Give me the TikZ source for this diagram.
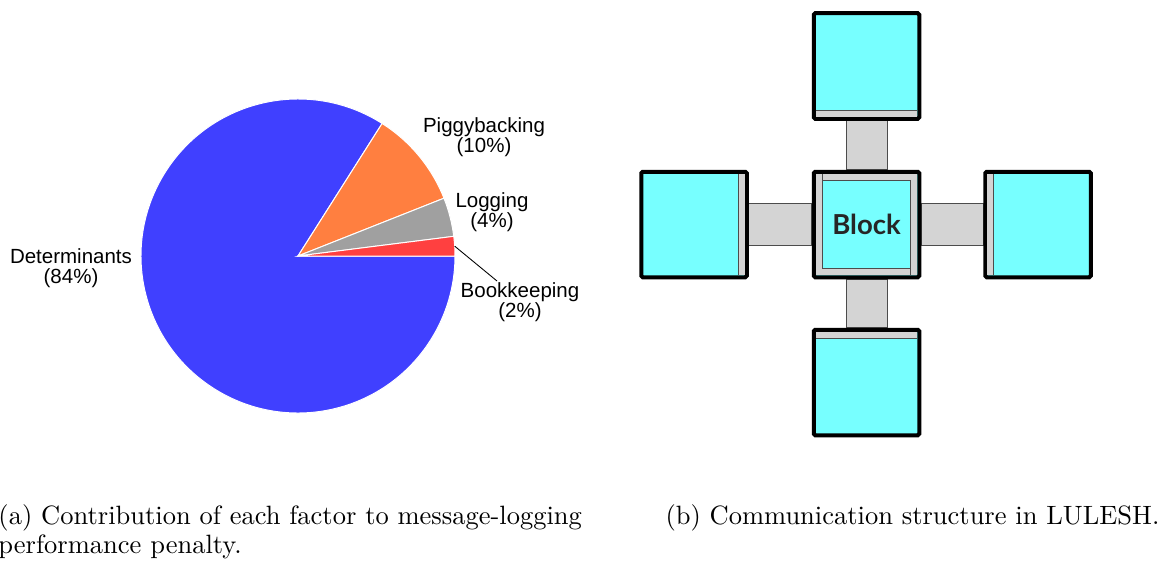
\documentclass[tikz,border=0pt]{standalone}
\usepackage{fontspec}
\newfontfamily\pief{Liberation Sans}
\newfontfamily\blockf{Lato}
\usetikzlibrary{calc,backgrounds}
\definecolor{pieblue}{HTML}{4040FF}
\definecolor{pieorange}{HTML}{FF7F40}
\definecolor{piegray}{HTML}{A0A0A0}
\definecolor{piered}{HTML}{FF4040}
\definecolor{cyanb}{HTML}{77FFFF}
\definecolor{stripg}{HTML}{D4D4D4}
\begin{document}
\begin{tikzpicture}[x=0.4pt,y=-0.4pt,
  slice/.style={draw=white,line width=0.4pt},
  pielabel/.style={font=\pief\fontsize{8.2}{7.8}\selectfont,align=center,inner sep=0pt},
  blockbox/.style={draw=black,fill=cyanb,line width=1.6pt,minimum size=42.2pt,inner sep=0pt,rounded corners=0.6pt},
  strip/.style={fill=stripg},
  innerline/.style={draw=black!70,line width=0.3pt},
  conn/.style={fill=stripg,draw=black!70,line width=0.35pt},
  caption/.style={anchor=base west,inner sep=0pt,font=\fontsize{10.6}{12.7}\selectfont}
]
\useasboundingbox (0,0) rectangle (1159,560);
% ---------- pie ----------
\coordinate (c) at (298,256);
\fill[pieblue,slice] (c) -- ++(-57.6:157) arc[start angle=-57.6,end angle=-360,radius=157] -- cycle;
\fill[pieorange,slice] (c) -- ++(-21.6:157) arc[start angle=-21.6,end angle=-57.6,radius=157] -- cycle;
\fill[piegray,slice] (c) -- ++(-7.2:157) arc[start angle=-7.2,end angle=-21.6,radius=157] -- cycle;
\fill[piered,slice] (c) -- ++(0:157) arc[start angle=0,end angle=-7.2,radius=157] -- cycle;
\node[pielabel] (pig) at (484,137) {Piggybacking\\(10\%)};
\node[pielabel] (log) at (492,212) {Logging\\(4\%)};
\node[pielabel] (bk) at (520,302) {Bookkeeping\\(2\%)};
\node[pielabel] (det) at (71,268) {Determinants\\(84\%)};
\coordinate (bkedge) at ($(c)+(-3.6:157)$);
\coordinate (bkend) at (497,281);
\draw[line width=0.35pt] (bkedge) -- (bkend);
% ---------- blocks ----------
\node[blockbox] (cen) at (866.5,224.5) {};
\node[blockbox] (top) at (866.5,66) {};
\node[blockbox] (bot) at (866.5,382.5) {};
\node[blockbox] (lef) at (694,224.5) {};
\node[blockbox] (rig) at (1038,224.5) {};
% connectors behind
\begin{scope}[on background layer]
\draw[conn] ($(top.south)+(-20.5,0)$) rectangle ($(cen.north)+(20.5,0)$);
\draw[conn] ($(cen.south)+(-20.5,0)$) rectangle ($(bot.north)+(20.5,0)$);
\draw[conn] ($(lef.east)+(0,-21)$) rectangle ($(cen.west)+(0,21)$);
\draw[conn] ($(cen.east)+(0,-21)$) rectangle ($(rig.west)+(0,21)$);
\end{scope}
% inner strips
\fill[strip] ($(top.south west)+(4,-4)$) rectangle ($(top.south east)+(-4,-10.5)$);
\draw[innerline] ($(top.south west)+(4,-10.5)$) -- ($(top.south east)+(-4,-10.5)$);
\fill[strip] ($(bot.north west)+(4,4)$) rectangle ($(bot.north east)+(-4,10.5)$);
\draw[innerline] ($(bot.north west)+(4,10.5)$) -- ($(bot.north east)+(-4,10.5)$);
\fill[strip] ($(lef.north east)+(-4,4)$) rectangle ($(lef.south east)+(-10.5,-4)$);
\draw[innerline] ($(lef.north east)+(-10.5,4)$) -- ($(lef.south east)+(-10.5,-4)$);
\fill[strip] ($(rig.north west)+(4,4)$) rectangle ($(rig.south west)+(10.5,-4)$);
\draw[innerline] ($(rig.north west)+(10.5,4)$) -- ($(rig.south west)+(10.5,-4)$);
\fill[strip] ($(cen.north west)+(4,4)$) rectangle ($(cen.south east)+(-4,-4)$);
\draw[innerline,fill=cyanb] ($(cen.north west)+(10.5,10.5)$) rectangle ($(cen.south east)+(-10.5,-10.5)$);
\draw[innerline] ($(cen.north west)+(10.5,4)$) -- ($(cen.north west)+(10.5,10.5)$);
\draw[innerline] ($(cen.south east)+(-10.5,-4)$) -- ($(cen.south east)+(-10.5,-10.5)$);
\node[font=\blockf\bfseries\fontsize{11}{13}\selectfont,text=black!85] (lbl) at (cen.center) {Block};
% ---------- captions ----------
\node[caption] (capa1) at (-2,524) {(a) Contribution of each factor to message-logging};
\node[caption] (capa2) at (-2,553) {performance penalty.};
\node[caption] (capb) at (665,524) {(b) Communication structure in LULESH.};
\end{tikzpicture}
\end{document}
